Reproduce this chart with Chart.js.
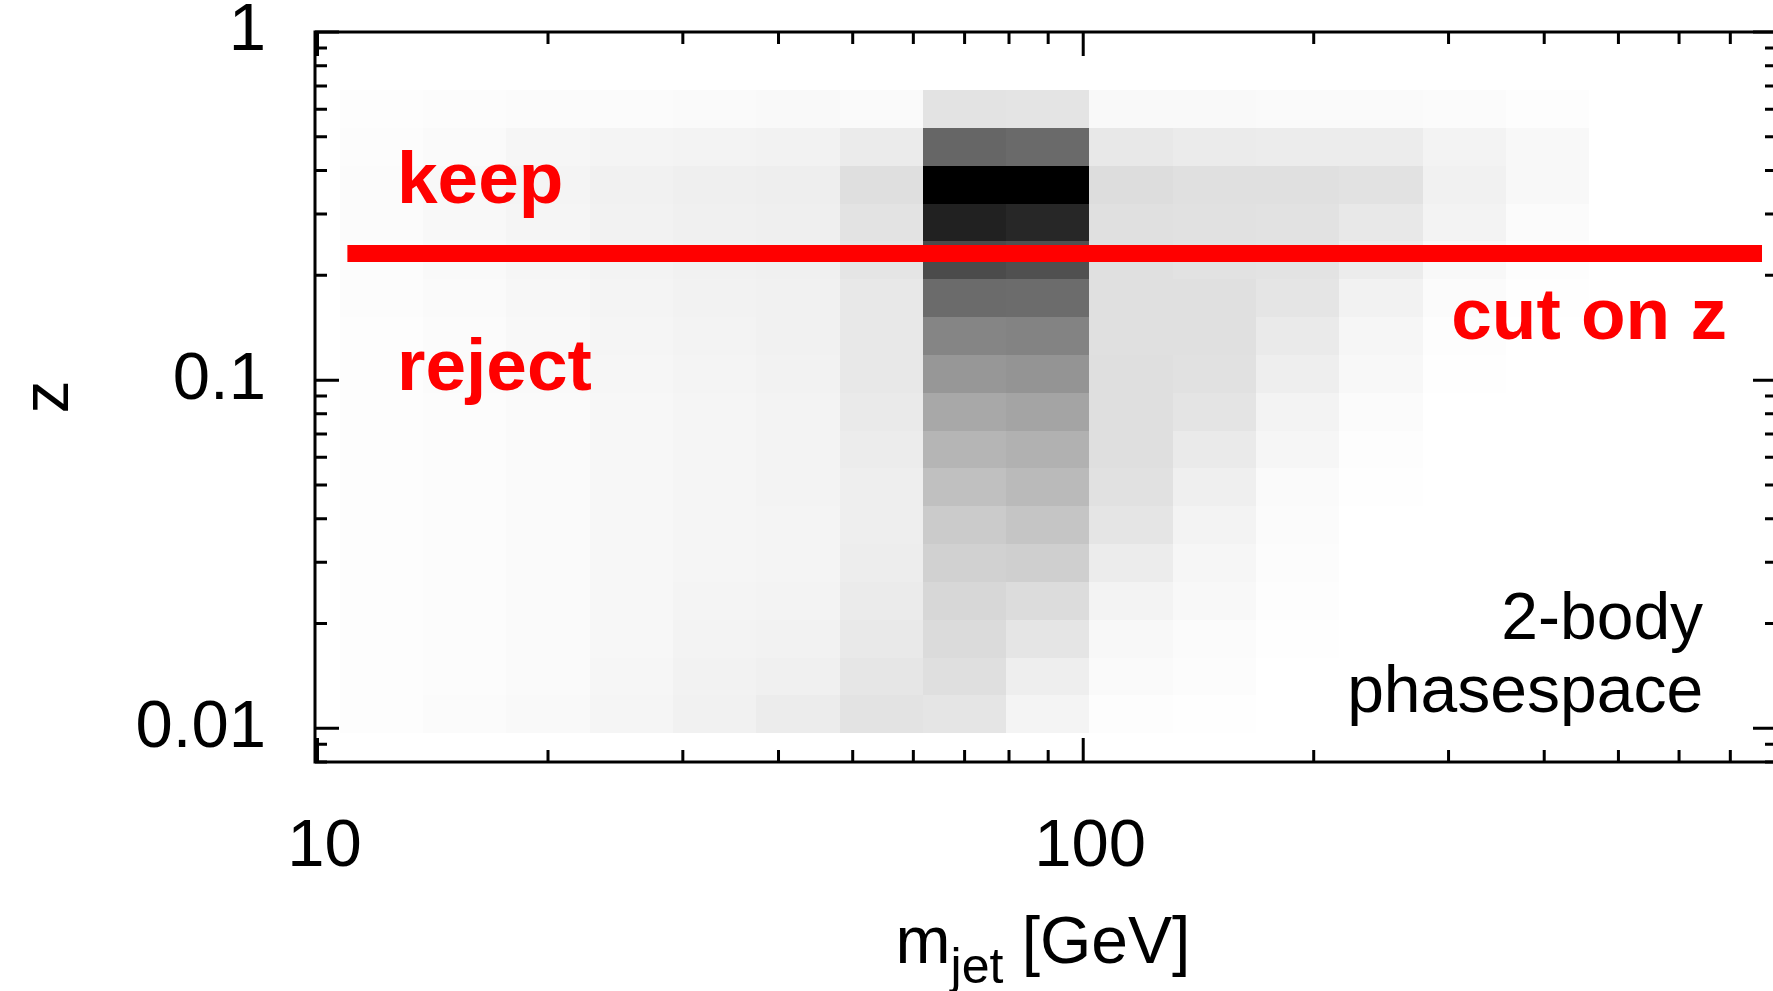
<!DOCTYPE html>
<html>
<head>
<meta charset="utf-8">
<title>z vs m_jet</title>
<script src="https://cdn.jsdelivr.net/npm/chart.js@4.4.1/dist/chart.umd.min.js"></script>
<style>
  html, body { margin: 0; padding: 0; background: #fff; overflow: hidden; }
  #contenedor { position: relative; width: 1790px; height: 991px; }
</style>
</head>
<body>
<div id="contenedor"><canvas id="heatChart"></canvas></div>
<script>
// Bordes de los bins en m_jet [GeV] (log)
var mEdges = [10.69, 13.73, 17.65, 22.67, 29.13, 37.43, 48.08, 61.78, 79.34, 101.9, 130.9, 168.2, 216.1, 277.6, 356.7, 458.2];

// Bordes de los bins en z, de arriba a abajo
var zEdges = [0.6816, 0.5305, 0.4130, 0.3215, 0.2503, 0.1949, 0.1518, 0.1182, 0.09201, 0.07163,
              0.05577, 0.04342, 0.03381, 0.02632, 0.02049, 0.01596, 0.01242, 0.009672];

// Densidad (0-100) por fila de z (arriba -> abajo) y columna de m_jet
var counts = [
    [0.8, 1.2, 1.6, 1.6, 2.0, 2.4, 2.0, 11.0, 10.6, 2.4, 2.4, 2.0, 2.0, 1.6, 0.8],
    [1.2, 2.0, 3.5, 4.3, 4.7, 5.1, 7.8, 60.0, 58.4, 9.0, 7.8, 7.5, 7.5, 4.7, 2.7],
    [1.6, 2.7, 4.3, 5.5, 6.3, 6.7, 12.5, 100, 100, 13.3, 12.2, 12.2, 11.4, 5.5, 2.7],
    [1.6, 2.7, 3.9, 5.1, 5.9, 6.3, 11.0, 87.1, 84.7, 12.2, 11.8, 11.4, 9.0, 4.7, 1.6],
    [1.2, 2.4, 3.5, 4.7, 5.5, 5.9, 10.2, 70.6, 68.6, 12.2, 11.4, 11.0, 7.5, 2.7, 0.8],
    [1.2, 2.0, 3.1, 4.3, 5.1, 5.5, 9.0, 58.0, 57.6, 12.2, 12.2, 10.2, 5.1, 1.6, 0.4],
    [0.8, 1.6, 2.7, 3.9, 4.7, 5.5, 9.0, 47.8, 48.6, 12.2, 12.2, 8.2, 3.5, 0.8, 0],
    [0.8, 1.6, 2.4, 3.5, 4.3, 5.1, 9.0, 40.8, 42.0, 12.5, 11.8, 6.7, 2.7, 0.4, 0],
    [0.8, 1.2, 2.0, 3.1, 3.9, 4.7, 8.2, 34.1, 35.7, 12.5, 10.6, 4.7, 1.6, 0, 0],
    [0.8, 1.2, 2.0, 3.1, 3.9, 4.7, 7.5, 29.0, 30.6, 12.5, 8.2, 3.5, 0.8, 0, 0],
    [0.8, 1.2, 2.0, 3.1, 3.9, 4.7, 6.7, 24.7, 27.1, 11.8, 6.3, 2.0, 0.4, 0, 0],
    [0.8, 1.2, 2.0, 3.1, 3.9, 4.3, 6.7, 20.4, 22.7, 10.2, 4.7, 1.6, 0, 0, 0],
    [0.8, 1.2, 2.0, 3.1, 3.9, 4.3, 7.1, 18.0, 18.8, 7.5, 3.5, 1.2, 0, 0, 0],
    [0.8, 1.2, 2.0, 3.1, 4.3, 4.7, 7.8, 15.7, 13.7, 4.7, 2.7, 0.8, 0, 0, 0],
    [0.8, 1.2, 2.0, 3.1, 4.7, 5.1, 8.6, 14.1, 10.2, 2.7, 1.6, 0.4, 0, 0, 0],
    [0.8, 1.2, 2.0, 3.5, 5.1, 5.9, 9.8, 12.5, 6.7, 2.0, 1.2, 0, 0, 0, 0],
    [0.8, 1.6, 2.4, 3.9, 5.5, 7.5, 11.0, 10.2, 4.3, 0.8, 0.4, 0, 0, 0, 0]
];

// Marcas de los ejes
var xTicks = [10, 20, 30, 40, 50, 60, 70, 80, 90, 100, 200, 300, 400, 500, 600, 700, 800];
var xLabelValues = [10, 100];
var xLabelTexts = ['10', '100'];
var zTicks = [0.008, 0.009, 0.01, 0.02, 0.03, 0.04, 0.05, 0.06, 0.07, 0.08, 0.09,
              0.1, 0.2, 0.3, 0.4, 0.5, 0.6, 0.7, 0.8, 0.9, 1];
var zLabelValues = [0.01, 0.1, 1];
var zLabelTexts = ['0.01', '0.1', '1'];

// Corte en z
var cutZ = 0.231;
var cutM = [10.94, 770];

var FUENTE = '"Liberation Sans", Arial, Helvetica, sans-serif';

var heatmapPlugin = {
    id: 'heatmap',
    beforeDatasetsDraw: function(chart) {
        var ctx = chart.ctx, xs = chart.scales.x, ys = chart.scales.y, a = chart.chartArea;
        ctx.save();
        ctx.beginPath();
        ctx.rect(a.left, a.top, a.right - a.left, a.bottom - a.top);
        ctx.clip();
        for (var r = 0; r < counts.length; r++) {
            var y0 = Math.round(ys.getPixelForValue(zEdges[r]));
            var y1 = Math.round(ys.getPixelForValue(zEdges[r + 1]));
            for (var c = 0; c < counts[r].length; c++) {
                if (!counts[r][c]) continue;
                var x0 = Math.round(xs.getPixelForValue(mEdges[c]));
                var x1 = Math.round(xs.getPixelForValue(mEdges[c + 1]));
                var g = Math.round(255 * (1 - counts[r][c] / 100));
                ctx.fillStyle = 'rgb(' + g + ',' + g + ',' + g + ')';
                ctx.fillRect(x0, y0, x1 - x0, y1 - y0);
            }
        }
        ctx.restore();
    },
    afterDatasetsDraw: function(chart) {
        var ctx = chart.ctx, xs = chart.scales.x, ys = chart.scales.y, a = chart.chartArea;
        ctx.save();

        // Textos dentro del grafico
        ctx.fillStyle = '#ff0000';
        ctx.font = 'bold 73px ' + FUENTE;
        ctx.textBaseline = 'alphabetic';
        ctx.textAlign = 'left';
        ctx.fillText('keep', xs.getPixelForValue(12.7), ys.getPixelForValue(0.3233));
        ctx.fillText('reject', xs.getPixelForValue(12.7), ys.getPixelForValue(0.0937));
        ctx.textAlign = 'right';
        ctx.fillText('cut on z', xs.getPixelForValue(693), ys.getPixelForValue(0.131));

        ctx.fillStyle = '#000';
        ctx.font = '66px ' + FUENTE;
        ctx.fillText('2-body', xs.getPixelForValue(645), ys.getPixelForValue(0.018));
        ctx.fillText('phasespace', xs.getPixelForValue(645), ys.getPixelForValue(0.01115));

        // Marco y marcas hacia dentro
        ctx.strokeStyle = '#000';
        ctx.lineWidth = 3;
        ctx.beginPath();
        xTicks.forEach(function(v) {
            var len = xLabelValues.indexOf(v) >= 0 ? 24 : 12;
            var px = xs.getPixelForValue(v);
            ctx.moveTo(px, a.bottom);
            ctx.lineTo(px, a.bottom - len);
            ctx.moveTo(px, a.top);
            ctx.lineTo(px, a.top + len);
        });
        zTicks.forEach(function(v) {
            var len = zLabelValues.indexOf(v) >= 0 ? 24 : 12;
            var py = ys.getPixelForValue(v);
            ctx.moveTo(a.left, py);
            ctx.lineTo(a.left + len, py);
            ctx.moveTo(a.right, py);
            ctx.lineTo(a.right - len, py);
        });
        ctx.stroke();
        ctx.strokeRect(a.left, a.top, a.right - a.left, a.bottom - a.top);
        ctx.restore();
    },
    afterDraw: function(chart) {
        var ctx = chart.ctx, a = chart.chartArea;
        ctx.save();
        ctx.fillStyle = '#000';
        ctx.textBaseline = 'alphabetic';
        ctx.textAlign = 'left';

        // Titulo eje x: m_jet [GeV]
        ctx.font = '66px ' + FUENTE;
        var w1 = ctx.measureText('m').width;
        var w3 = ctx.measureText(' [GeV]').width;
        ctx.font = '50px ' + FUENTE;
        var w2 = ctx.measureText('jet').width;
        var x = (a.left + a.right) / 2 - 3 - (w1 + w2 + w3) / 2;
        ctx.font = '66px ' + FUENTE;
        ctx.fillText('m', x, a.bottom + 201);
        ctx.font = '50px ' + FUENTE;
        ctx.fillText('jet', x + w1, a.bottom + 221);
        ctx.font = '66px ' + FUENTE;
        ctx.fillText(' [GeV]', x + w1 + w2, a.bottom + 201);

        // Titulo eje y: z
        ctx.translate(68, (a.top + a.bottom) / 2);
        ctx.rotate(-Math.PI / 2);
        ctx.textAlign = 'center';
        ctx.fillText('z', 0, 0);
        ctx.restore();
    }
};

function createHeatChart() {
    var tickFont = { family: FUENTE, size: 67, lineHeight: 1 };

    var config = {
        type: 'scatter',
        data: {
            datasets: [{
                label: 'cut on z',
                data: [{ x: cutM[0], y: cutZ }, { x: cutM[1], y: cutZ }],
                showLine: true,
                borderColor: '#ff0000',
                backgroundColor: '#ff0000',
                borderWidth: 17,
                borderCapStyle: 'butt',
                pointRadius: 0
            }]
        },
        options: {
            responsive: true,
            maintainAspectRatio: false,
            animation: false,
            layout: { padding: { top: 32, right: 13, left: 0, bottom: 0 } },
            plugins: {
                legend: { display: false },
                tooltip: { enabled: false }
            },
            scales: {
                x: {
                    type: 'logarithmic',
                    position: 'bottom',
                    min: 9.925,
                    max: 805.5,
                    grid: { display: false, drawTicks: false },
                    border: { display: false },
                    ticks: {
                        autoSkip: false,
                        maxRotation: 0,
                        minRotation: 0,
                        padding: 52,
                        labelOffset: 7,
                        color: '#000',
                        font: tickFont,
                        callback: function(value) {
                            var i = xLabelValues.indexOf(value);
                            return i >= 0 ? xLabelTexts[i] : '';
                        }
                    },
                    afterBuildTicks: function(scale) {
                        scale.ticks = xTicks.map(function(v) { return { value: v }; });
                    },
                    afterFit: function(scale) {
                        scale.height = 229;
                        scale.paddingLeft = 0;
                        scale.paddingRight = 0;
                    }
                },
                y: {
                    type: 'logarithmic',
                    min: 0.008,
                    max: 1,
                    grid: { display: false, drawTicks: false },
                    border: { display: false },
                    ticks: {
                        autoSkip: false,
                        padding: 49,
                        color: '#000',
                        font: tickFont,
                        callback: function(value) {
                            var i = zLabelValues.indexOf(value);
                            return i >= 0 ? zLabelTexts[i] : '';
                        }
                    },
                    afterBuildTicks: function(scale) {
                        scale.ticks = zTicks.map(function(v) { return { value: v }; });
                    },
                    afterFit: function(scale) {
                        scale.width = 315;
                        scale.paddingTop = 0;
                        scale.paddingBottom = 0;
                    }
                }
            }
        },
        plugins: [heatmapPlugin]
    };

    var myChart = new Chart(document.getElementById('heatChart'), config);
}

createHeatChart();
</script>
</body>
</html>
